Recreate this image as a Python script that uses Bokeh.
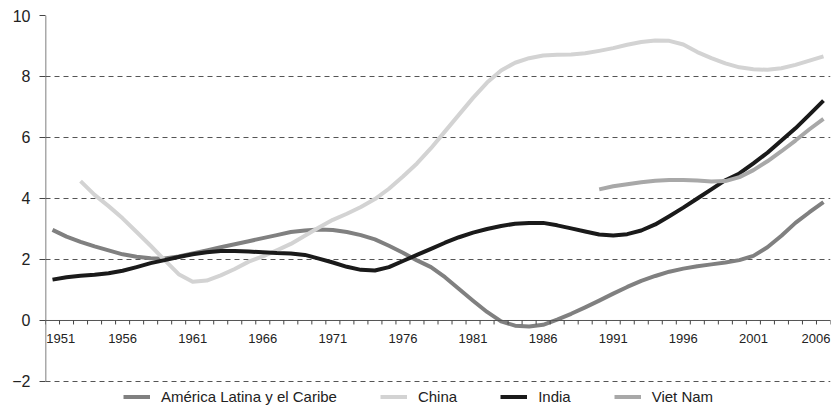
from bokeh.plotting import figure
from bokeh.models import Range1d, FixedTicker, Legend, LegendItem, ColumnDataSource
from bokeh.embed import file_html
from bokeh.resources import INLINE

# ---- data ----
years = list(range(1951, 2007))
latam = [2.97, 2.75, 2.58, 2.43, 2.30, 2.17, 2.09, 2.04, 2.03, 2.10,
         2.20, 2.30, 2.40, 2.50, 2.60, 2.70, 2.80, 2.90, 2.95, 2.98,
         2.97, 2.90, 2.80, 2.66, 2.45, 2.22, 1.97, 1.75, 1.42, 1.03,
         0.65, 0.28, -0.03, -0.17, -0.20, -0.14, 0.03, 0.22, 0.43, 0.65,
         0.88, 1.10, 1.30, 1.46, 1.60, 1.70, 1.78, 1.84, 1.90, 1.98,
         2.12, 2.40, 2.78, 3.20, 3.55, 3.88]
india = [1.34, 1.42, 1.47, 1.50, 1.55, 1.63, 1.75, 1.88, 1.98, 2.08,
         2.17, 2.24, 2.28, 2.28, 2.26, 2.24, 2.21, 2.20, 2.15, 2.03,
         1.90, 1.76, 1.66, 1.64, 1.75, 1.95, 2.15, 2.35, 2.55, 2.73,
         2.88, 3.00, 3.10, 3.17, 3.20, 3.20, 3.12, 3.02, 2.92, 2.82,
         2.79, 2.83, 2.95, 3.15, 3.42, 3.70, 4.00, 4.30, 4.60, 4.82,
         5.15, 5.50, 5.90, 6.30, 6.75, 7.21]
china_years = list(range(1953, 2007))
china = [4.57, 4.12, 3.75, 3.35, 2.90, 2.45, 1.98, 1.52,
         1.27, 1.31, 1.48, 1.69, 1.93, 2.10, 2.30, 2.51, 2.78, 3.05,
         3.30, 3.50, 3.72, 3.98, 4.32, 4.72, 5.15, 5.65, 6.20, 6.75,
         7.30, 7.80, 8.20, 8.45, 8.60, 8.69, 8.71, 8.72, 8.76, 8.84,
         8.93, 9.04, 9.13, 9.18, 9.17, 9.05, 8.80, 8.60, 8.43, 8.30,
         8.24, 8.22, 8.27, 8.38, 8.52, 8.66]
vn_years = list(range(1990, 2007))
vietnam = [4.30, 4.40, 4.47, 4.53, 4.58, 4.61, 4.61, 4.59, 4.56, 4.57,
           4.70, 4.93, 5.22, 5.55, 5.90, 6.27, 6.61]
y_ticks = [-2, 0, 2, 4, 6, 8, 10]
label_years = list(range(1951, 2007, 5))
series_names = ["América Latina y el Caribe", "China", "India", "Viet Nam"]

FONT = "Liberation Sans"
y_lo, y_hi = y_ticks[0], y_ticks[-1]
legend_room = 0.787   # extra data units below the last gridline for the legend
x_lo, x_hi = years[0] - 0.5, years[-1] + 0.5

p = figure(width=836, height=405, output_backend="svg", toolbar_location=None,
           x_range=Range1d(x_lo, x_hi),
           y_range=Range1d(y_lo - legend_room, y_hi),
           x_axis_location=None,
           min_border_left=45, min_border_right=6, min_border_top=15,
           min_border_bottom=0)
p.outline_line_color = None
p.xgrid.visible = False

yax = p.yaxis[0]
yax.ticker = FixedTicker(ticks=y_ticks)
yax.major_tick_in = 0
yax.major_tick_out = 6
yax.minor_tick_line_color = None
yax.axis_line_color = None
yax.major_tick_line_color = "#444444"
yax.major_label_text_font = FONT
yax.major_label_text_font_size = "16px"
yax.major_label_text_color = "#222222"
yax.major_label_standoff = 9

p.ygrid.ticker = FixedTicker(ticks=y_ticks)
p.ygrid.grid_line_color = "#555555"
p.ygrid.grid_line_dash = "5 4"
p.ygrid.grid_line_width = 1

# y axis line (from -2 to 10)
p.segment(x0=[x_lo], y0=[y_lo], x1=[x_lo], y1=[y_hi], line_color="#555555", line_width=1.5)

# series lines
colors = ["#808080", "#d3d3d3", "#1a1a1a", "#a8a8a8"]
r_la = p.line(years, latam, line_color=colors[0], line_width=4, line_join="round")
r_cn = p.line(china_years, china, line_color=colors[1], line_width=4, line_join="round")
r_in = p.line(years, india, line_color=colors[2], line_width=4, line_join="round")
r_vn = p.line(vn_years, vietnam, line_color=colors[3], line_width=4, line_join="round")

# x axis drawn at y = 0
bounds = [y - 0.5 for y in years] + [x_hi]
p.segment(x0=[x_lo], y0=[0], x1=[x_hi], y1=[0], line_color="#555555", line_width=1)
tick_len = 0.13
p.segment(x0=bounds, y0=[0] * len(bounds), x1=bounds, y1=[-tick_len] * len(bounds),
          line_color="#444444", line_width=1)

# year labels: first label flush with the y axis, last flush with the right edge
lab_x = [float(y) for y in label_years]
lab_align = ["center"] * len(label_years)
lab_x[0], lab_align[0] = x_lo + 0.05, "left"
lab_x[-1], lab_align[-1] = x_hi, "right"
label_y = -0.59
lab_src = ColumnDataSource(dict(x=lab_x, y=[label_y] * len(label_years),
                                text=[str(y) for y in label_years], align=lab_align))
p.text(x="x", y="y", text="text", text_align="align", source=lab_src,
       text_baseline="middle", text_font_size="13px", text_color="#222222",
       text_font={"value": FONT})

legend = Legend(items=[LegendItem(label=series_names[0], renderers=[r_la]),
                       LegendItem(label=series_names[1], renderers=[r_cn]),
                       LegendItem(label=series_names[2], renderers=[r_in]),
                       LegendItem(label=series_names[3], renderers=[r_vn])],
                orientation="horizontal", location=(78, 0))
legend.label_text_font = FONT
legend.label_text_font_size = "15px"
legend.label_text_color = "#222222"
legend.glyph_width = 27
legend.glyph_height = 15
legend.label_height = 15
legend.label_standoff = 11
legend.spacing = 43
legend.padding = 1
legend.margin = 0
legend.border_line_color = None
legend.background_fill_alpha = 0
p.add_layout(legend, "center")

open("out.html", "w").write(file_html(p, INLINE))
